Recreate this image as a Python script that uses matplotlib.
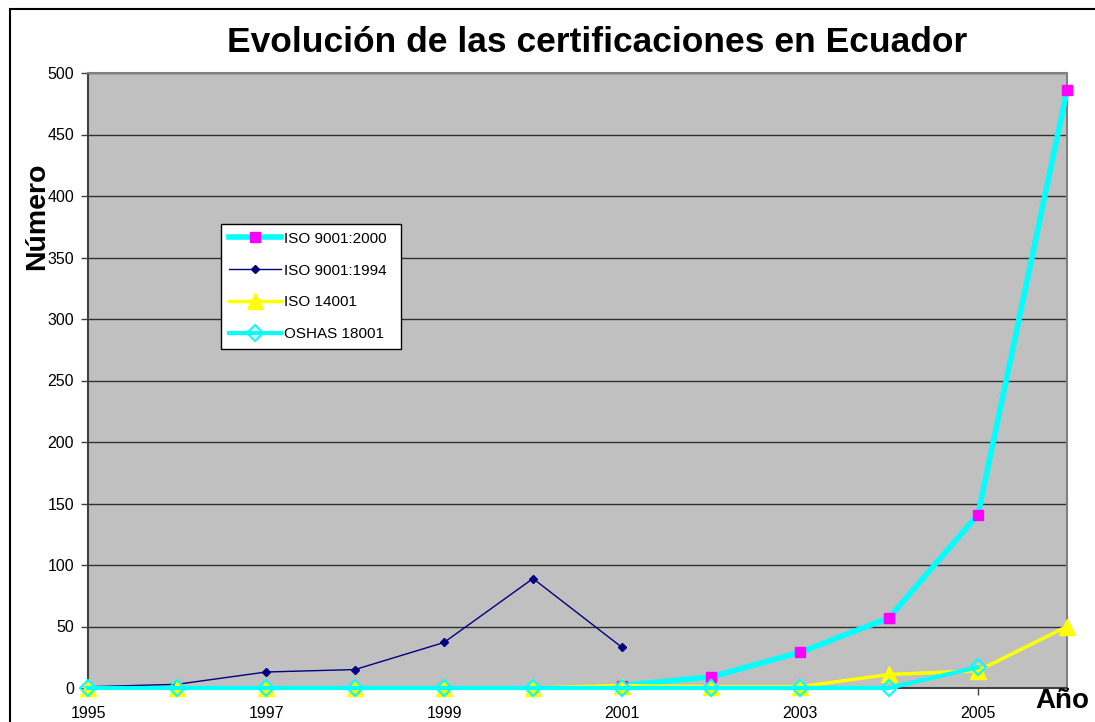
import numpy as np
import matplotlib
matplotlib.use("Agg")
import matplotlib.pyplot as plt
from matplotlib.patches import Rectangle

plt.rcParams['font.family'] = ['Liberation Sans', 'DejaVu Sans']

years = list(range(1995, 2007))
iso9001_2000 = [np.nan, np.nan, np.nan, np.nan, np.nan, np.nan, 2, 9, 29, 57, 141, 486]
iso9001_1994 = [1, 3, 13, 15, 37, 89, 33, np.nan, np.nan, np.nan, np.nan, np.nan]
iso14001 = [0, 0, 0, 0, 0, 0, 2, 1, 1, 11, 14, 50]
oshas18001 = [0, 0, 0, 0, 0, 0, 0, 0, 0, 0, 17, np.nan]
xtick_years = [1995, 1997, 1999, 2001, 2003, 2005]
ytick_vals = list(range(0, 501, 50))

fig = plt.figure(figsize=(10.95, 7.22), dpi=100)
W, H = 1095, 722
ax = fig.add_axes([88 / W, 1 - 688 / H, (1067 - 88) / W, (688 - 73) / H])
ax.set_facecolor('#C0C0C0')

# outer chart frame
fig.add_artist(Rectangle((10 / W, -0.1), 1.2, 1 - 9 / H + 0.1, transform=fig.transFigure,
                         fill=False, edgecolor='black', linewidth=1.5))

ax.plot(years, iso9001_2000, color='#00FFFF', linewidth=4, marker='s', markersize=7,
        markerfacecolor='#FF00FF', markeredgecolor='#FF00FF', label='ISO 9001:2000', zorder=4,
        clip_on=False)
ax.plot(years, iso9001_1994, color='#000080', linewidth=1, marker='D', markersize=4,
        markerfacecolor='#000080', markeredgecolor='#000080', label='ISO 9001:1994', zorder=3,
        clip_on=False)
ax.plot(years, iso14001, color='#FFFF00', linewidth=2.5, marker='^', markersize=12,
        markerfacecolor='#FFFF00', markeredgecolor='#FFFF00', label='ISO 14001', zorder=5,
        clip_on=False)
ax.plot(years, oshas18001, color='#00FFFF', linewidth=3, marker='D', markersize=8,
        markerfacecolor='none', markeredgecolor='#00FFFF', markeredgewidth=1.5,
        label='OSHAS 18001', zorder=6, clip_on=False)

ax.set_xlim(1995, 2006)
ax.set_ylim(0, 500)
ax.set_xticks(xtick_years)
ax.set_xticklabels([str(y) for y in xtick_years], fontsize=11.5)
ax.set_yticks(ytick_vals)
ax.set_yticklabels([str(v) for v in ytick_vals], fontsize=11.5)
ax.tick_params(axis='both', direction='out', length=5, width=1, color='#404040')
ax.tick_params(axis='x', pad=8)
ax.tick_params(axis='y', pad=5)
ax.grid(axis='y', color='black', linewidth=1, alpha=0.75)
ax.set_axisbelow(True)
for side in ['top', 'right']:
    ax.spines[side].set_color('#808080')
    ax.spines[side].set_linewidth(1.5)
for side in ['left', 'bottom']:
    ax.spines[side].set_color('#404040')
    ax.spines[side].set_linewidth(1.5)

fig.text(597 / W, 1 - 43 / H, 'Evolución de las certificaciones en Ecuador',
         fontsize=25.5, fontweight='bold', ha='center', va='center')
fig.text(37 / W, 1 - 216 / H, 'Número', fontsize=20.5, fontweight='bold',
         rotation=90, ha='center', va='center')
fig.text(1062 / W, 1 - 701 / H, 'Año', fontsize=20, fontweight='bold',
         ha='center', va='center')

leg = ax.legend(loc='upper left', bbox_to_anchor=(221 / W, 1 - 351 / H, 180 / W, 127 / H),
                bbox_transform=fig.transFigure, mode='expand', fontsize=11, frameon=True,
                fancybox=False, edgecolor='black', facecolor='white', framealpha=1,
                borderpad=0.5, labelspacing=1.17, handlelength=3.4, handletextpad=0.25,
                borderaxespad=0)
leg.get_frame().set_linewidth(1)

fig.savefig('out.png', dpi=100)
